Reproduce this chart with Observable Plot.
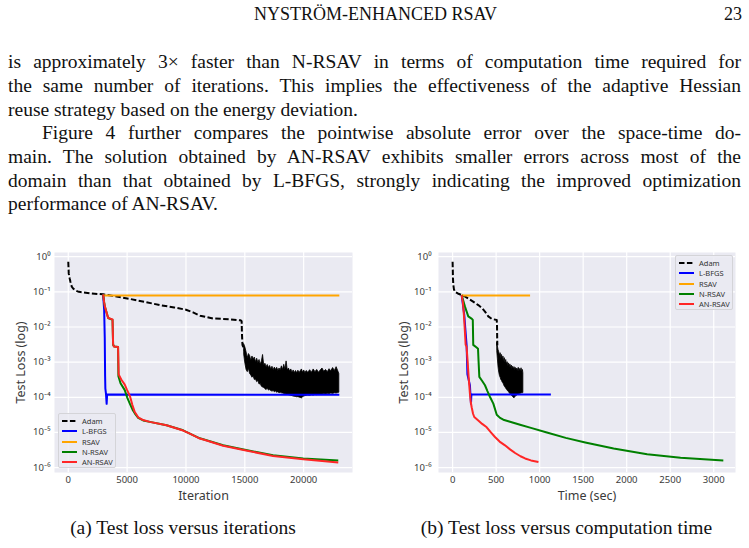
<!DOCTYPE html>
<html>
<head>
<meta charset="utf-8">
<script src="https://cdn.jsdelivr.net/npm/d3@7"></script>
<script src="https://cdn.jsdelivr.net/npm/@observablehq/plot@0.6"></script>
<style>
  html, body { margin: 0; padding: 0; background: #fff; }
  #page { position: relative; width: 749px; height: 548px; overflow: hidden;
          font-family: "Liberation Serif", "DejaVu Serif", serif; color: #111; }
  .ln { position: absolute; left: 8px; width: 733px; font-size: 19.5px; line-height: 22px; }
  .j { text-align: justify; text-align-last: justify; }
  .hdr { position: absolute; top: 4px; font-size: 18px; line-height: 20px; }
  .cap { position: absolute; top: 517px; font-size: 19.5px; line-height: 22px; text-align: center; width: 380px; }
  .chart { position: absolute; top: 240px; }
  .chart svg { display: block; }
  .legend { position: absolute; box-sizing: border-box; border: 1px solid #d4d4d8; border-radius: 2px;
            background: rgba(234,234,242,0.85); font-family: "Noto Sans", "DejaVu Sans", sans-serif;
            font-size: 7.5px; color: #333; }
  .legend .row { position: absolute; left: 0; height: 10px; line-height: 10px; white-space: nowrap; }
  .legend svg { position: absolute; top: 0; }
  .legend span { position: absolute; top: 0; }
</style>
</head>
<body>
<div id="page">
  <div class="hdr" style="left:0;width:751px;text-align:center;">NYSTRÖM-ENHANCED RSAV</div>
  <div class="hdr" style="left:700px;width:42px;text-align:right;">23</div>

  <div class="ln j" style="top:51px;">is approximately 3× faster than N-RSAV in terms of computation time required for</div>
  <div class="ln j" style="top:75px;">the same number of iterations. This implies the effectiveness of the adaptive Hessian</div>
  <div class="ln" style="top:98.5px;">reuse strategy based on the energy deviation.</div>
  <div class="ln j" style="top:122px;left:42px;width:699px;">Figure 4 further compares the pointwise absolute error over the space-time do-</div>
  <div class="ln j" style="top:146px;">main. The solution obtained by AN-RSAV exhibits smaller errors across most of the</div>
  <div class="ln j" style="top:169.5px;">domain than that obtained by L-BFGS, strongly indicating the improved optimization</div>
  <div class="ln" style="top:193px;">performance of AN-RSAV.</div>

  <div id="chartA" class="chart" style="left:0px;"></div>
  <div id="chartB" class="chart" style="left:380px;"></div>

  <div class="cap" style="left:-7px;">(a) Test loss versus iterations</div>
  <div class="cap" style="left:376.5px;">(b) Test loss versus computation time</div>
</div>

<script>
// Series shared by both panels
const seriesNames  = ["Adam", "L-BFGS", "RSAV", "N-RSAV", "AN-RSAV"];
const seriesColors = ["#000000", "#0000ff", "#ffa500", "#008000", "#ff2626"];

// Axis ticks
const lossTicks = [1e-6, 1e-5, 1e-4, 1e-3, 1e-2, 1e-1, 1];
const iterTicks = [0, 5000, 10000, 15000, 20000];
const timeTicks = [0, 500, 1000, 1500, 2000, 2500, 3000];

// ---- Test loss versus iteration: [iteration, loss] ----
const iterAdam = [
  [0, 0.72], [20, 0.5], [40, 0.33], [120, 0.24], [190, 0.19], [300, 0.14], [410, 0.125],
  [600, 0.11], [900, 0.1], [1260, 0.097], [2000, 0.09], [2960, 0.085], [4000, 0.075],
  [5230, 0.063], [6500, 0.052], [7780, 0.042], [9000, 0.036], [10000, 0.031], [10600, 0.026],
  [11200, 0.021], [12300, 0.0175], [13700, 0.0166], [14640, 0.0155], [14730, 0.0145],
  [14760, 0.006], [14800, 0.0031], [14900, 0.0025], [14950, 0.0022]
];
// Adam oscillation envelope after the drop: [iteration, low, high]
const iterAdamBand = [
  [14950, 1.6e-3, 3.2e-3], [15050, 9e-4, 2.6e-3], [15150, 6e-4, 1.9e-3], [15250, 5.2e-4, 1.3e-3],
  [15350, 6.5e-4, 1.7e-3], [15450, 4.6e-4, 1.5e-3], [15550, 4.2e-4, 1.1e-3], [15650, 3.6e-4, 1.45e-3],
  [15750, 3.9e-4, 1.2e-3], [15850, 3.1e-4, 1.35e-3], [15950, 3.2e-4, 1.0e-3], [16050, 2.7e-4, 1.25e-3],
  [16150, 2.9e-4, 9.5e-4], [16250, 2.3e-4, 1.15e-3], [16350, 2.4e-4, 8.5e-4], [16450, 2.0e-4, 1.05e-3],
  [16550, 1.9e-4, 1.6e-3], [16650, 1.85e-4, 8.0e-4], [16750, 1.7e-4, 9.0e-4], [16850, 1.6e-4, 7.2e-4],
  [16950, 1.75e-4, 8.3e-4], [17050, 1.55e-4, 6.8e-4], [17150, 1.6e-4, 7.8e-4], [17250, 1.5e-4, 6.2e-4],
  [17350, 1.45e-4, 7.4e-4], [17450, 1.5e-4, 5.9e-4], [17550, 1.4e-4, 7.0e-4], [17650, 1.45e-4, 6.0e-4],
  [17750, 1.35e-4, 6.9e-4], [17850, 1.4e-4, 5.6e-4], [17950, 1.3e-4, 6.6e-4], [18050, 1.35e-4, 5.8e-4],
  [18150, 1.3e-4, 7.6e-4], [18250, 1.28e-4, 6.0e-4], [18350, 1.25e-4, 8.4e-4], [18450, 1.22e-4, 6.2e-4],
  [18550, 1.2e-4, 1.05e-3], [18650, 1.18e-4, 5.8e-4], [18750, 1.15e-4, 6.6e-4], [18850, 1.12e-4, 5.4e-4],
  [18950, 1.1e-4, 6.2e-4], [19050, 1.08e-4, 5.0e-4], [19150, 1.05e-4, 5.8e-4], [19250, 1.03e-4, 4.9e-4],
  [19350, 1.02e-4, 5.6e-4], [19450, 1.0e-4, 4.8e-4], [19550, 1.01e-4, 5.7e-4], [19650, 9.8e-5, 4.9e-4],
  [19750, 9.6e-5, 5.5e-4], [19850, 9.3e-5, 6.2e-4], [19950, 1.0e-4, 5.0e-4], [20050, 1.05e-4, 5.8e-4],
  [20150, 1.08e-4, 4.8e-4], [20250, 1.1e-4, 5.6e-4], [20400, 1.12e-4, 5.0e-4], [20550, 1.1e-4, 5.9e-4],
  [20700, 1.15e-4, 5.0e-4], [20850, 1.12e-4, 6.2e-4], [21000, 1.18e-4, 5.2e-4], [21150, 1.15e-4, 6.0e-4],
  [21300, 1.2e-4, 5.0e-4], [21450, 1.17e-4, 5.8e-4], [21600, 1.2e-4, 6.6e-4], [21750, 1.22e-4, 5.3e-4],
  [21900, 1.2e-4, 6.0e-4], [22050, 1.25e-4, 5.2e-4], [22200, 1.22e-4, 6.3e-4], [22350, 1.28e-4, 5.5e-4],
  [22500, 1.25e-4, 6.8e-4], [22650, 1.3e-4, 5.6e-4], [22800, 1.28e-4, 7.2e-4], [22950, 1.32e-4, 5.4e-4],
  [23030, 1.35e-4, 4.6e-4]
];
const iterLbfgs = [
  [2960, 0.085], [3050, 0.03], [3100, 0.005], [3130, 4e-4], [3150, 1.8e-4], [3200, 1.3e-4],
  [3260, 6.5e-5], [3300, 1.2e-4], [23030, 1.18e-4]
];
const iterRsav = [[2960, 0.082], [3100, 0.079], [23030, 0.079]];
const iterNrsav = [
  [2960, 0.085], [3050, 0.05], [3110, 0.038], [3390, 0.018], [3760, 0.016], [3810, 0.0031],
  [3900, 0.0028], [4230, 0.0027], [4260, 4e-4], [4440, 2.5e-4], [4800, 1.6e-4], [5000, 1.0e-4],
  [5230, 6.6e-5], [5500, 4.2e-5], [5650, 3.5e-5], [5940, 2.6e-5], [6360, 2.2e-5], [6930, 2.0e-5],
  [8350, 1.6e-5], [9760, 1.15e-5], [10330, 9.3e-6], [11180, 6.8e-6], [11750, 6.0e-6], [13160, 4.3e-6],
  [15000, 3.2e-6], [17400, 2.25e-6], [19970, 1.82e-6], [22940, 1.6e-6]
];
const iterAnrsav = [
  [2960, 0.085], [3050, 0.05], [3110, 0.038], [3350, 0.02], [3390, 0.018], [3760, 0.0165],
  [3810, 0.0033], [3870, 0.0028], [4230, 0.0027], [4280, 4.5e-4], [4500, 3.2e-4], [4800, 2.3e-4],
  [5000, 1.6e-4], [5230, 1.1e-4], [5450, 6e-5], [5650, 3.8e-5], [5940, 2.7e-5], [6360, 2.25e-5],
  [6930, 2.0e-5], [8350, 1.6e-5], [9760, 1.13e-5], [10330, 9.2e-6], [11180, 6.7e-6], [11750, 5.9e-6],
  [13160, 4.2e-6], [15000, 3.1e-6], [17400, 2.15e-6], [19970, 1.72e-6], [22940, 1.4e-6]
];

// ---- Test loss versus computation time: [seconds, loss] ----
const timeAdam = [
  [0, 0.72], [2, 0.45], [4, 0.25], [8, 0.16], [15, 0.12], [26, 0.1], [60, 0.09], [104, 0.081],
  [140, 0.074], [180, 0.065], [240, 0.052], [295, 0.042], [340, 0.034], [372, 0.0275], [410, 0.02],
  [449, 0.017], [507, 0.0158], [510, 0.012], [512, 0.005], [514, 0.003]
];
const timeAdamBand = [
  [513, 2.0e-3, 3.5e-3], [520, 1.2e-3, 2.8e-3], [528, 7e-4, 2.2e-3], [536, 5e-4, 1.9e-3],
  [544, 4e-4, 1.5e-3], [552, 3.6e-4, 1.8e-3], [560, 3.1e-4, 1.3e-3], [568, 2.9e-4, 1.6e-3],
  [576, 2.6e-4, 1.15e-3], [584, 2.5e-4, 1.45e-3], [592, 2.2e-4, 1.05e-3], [600, 2.0e-4, 1.3e-3],
  [608, 1.9e-4, 9.5e-4], [616, 1.75e-4, 1.15e-3], [624, 1.65e-4, 8.5e-4], [632, 1.55e-4, 1.0e-3],
  [640, 1.45e-4, 7.8e-4], [648, 1.4e-4, 9.2e-4], [656, 1.3e-4, 7.2e-4], [664, 1.25e-4, 8.6e-4],
  [672, 1.18e-4, 6.8e-4], [680, 1.12e-4, 8.0e-4], [688, 1.06e-4, 6.4e-4], [696, 1.02e-4, 7.4e-4],
  [704, 9.6e-5, 6.2e-4], [712, 9.4e-5, 7.2e-4], [720, 1.0e-4, 6.0e-4], [728, 1.05e-4, 6.8e-4],
  [736, 1.1e-4, 5.8e-4], [744, 1.12e-4, 6.6e-4], [752, 1.18e-4, 5.6e-4], [760, 1.2e-4, 6.9e-4],
  [768, 1.22e-4, 5.5e-4], [776, 1.24e-4, 6.4e-4], [784, 1.26e-4, 5.4e-4], [792, 1.28e-4, 6.7e-4],
  [800, 1.3e-4, 5.3e-4], [808, 1.3e-4, 6.0e-4], [813, 1.32e-4, 4.8e-4]
];
const timeLbfgs = [
  [104, 0.081], [134, 0.022], [161, 0.003], [166, 0.0011], [170, 4.5e-4], [199, 2.2e-4],
  [205, 1.2e-4], [211, 6.6e-5], [216, 1.2e-4], [1129, 1.2e-4]
];
const timeRsav = [[104, 0.081], [120, 0.079], [890, 0.079]];
const timeNrsav = [
  [104, 0.081], [142, 0.038], [180, 0.02], [222, 0.017], [232, 0.016], [237, 0.0031], [276, 0.0026],
  [292, 0.0024], [298, 0.0011], [307, 3.8e-4], [340, 2.9e-4], [372, 2.2e-4], [400, 1.5e-4],
  [430, 1.02e-4], [468, 6.6e-5], [507, 3.2e-5], [545, 2.6e-5], [583, 2.3e-5], [650, 2.05e-5],
  [775, 1.65e-5], [900, 1.35e-5], [1083, 1.0e-5], [1300, 7.0e-6], [1524, 5.2e-6], [1850, 3.5e-6],
  [2235, 2.4e-6], [2619, 1.9e-6], [3110, 1.6e-6]
];
const timeAnrsav = [
  [104, 0.081], [118, 0.05], [130, 0.022], [140, 0.0085], [150, 0.0031], [160, 0.0028], [172, 0.0011],
  [185, 3.5e-4], [199, 1.26e-4], [210, 7e-5], [219, 5.2e-5], [235, 3.4e-5], [249, 2.75e-5],
  [295, 2.2e-5], [340, 1.75e-5], [392, 1.4e-5], [440, 1.0e-5], [487, 7.4e-6], [540, 5.5e-6],
  [602, 4.3e-6], [660, 3.3e-6], [718, 2.6e-6], [780, 2.1e-6], [833, 1.82e-6], [900, 1.6e-6], [986, 1.45e-6]
];

// Power-of-ten tick labels with superscript exponents
const supDigits = { "-": "\u207B", "0": "\u2070", "1": "\u00B9", "2": "\u00B2", "3": "\u00B3",
                    "4": "\u2074", "5": "\u2075", "6": "\u2076", "7": "\u2077", "8": "\u2078", "9": "\u2079" };
const pow10 = d => "10" + String(Math.round(Math.log10(d))).replace(/./g, c => supDigits[c]);

const toPoints = a => a.map(([x, y]) => ({x, y}));
const toBand = a => a.map(([x, lo, hi]) => ({x, lo, hi}));

function lossChart(o) {
  const line = (data, i, extra = {}) => Plot.line(toPoints(data), {
    x: "x", y: "y", stroke: seriesColors[i], strokeWidth: 2,
    strokeLinejoin: "round", strokeLinecap: "butt", ...extra
  });
  return Plot.plot({
    width: o.width, height: 270,
    marginLeft: o.marginLeft, marginRight: o.marginRight, marginTop: 12, marginBottom: 38,
    style: { fontFamily: "'Noto Sans', 'DejaVu Sans', sans-serif", fontSize: "9.5px",
             color: "#3a3a3a", background: "transparent", overflow: "visible" },
    x: { domain: o.xDomain },
    y: { type: "log", domain: [10 ** -6.14, 10 ** 0.12] },
    marks: [
      Plot.frame({ fill: "#eaeaf2", stroke: "none" }),
      Plot.gridX(o.xTicks, { stroke: "#fff", strokeOpacity: 1, strokeWidth: 1.2 }),
      Plot.gridY(lossTicks, { stroke: "#fff", strokeOpacity: 1, strokeWidth: 1.2 }),
      Plot.axisX(o.xTicks, { tickSize: 0, tickPadding: 4, tickFormat: d => String(d), label: null }),
      Plot.axisY(lossTicks, { tickSize: 0, tickPadding: o.yPad, tickFormat: pow10, label: null }),
      Plot.text([o.xLabel], { frameAnchor: "bottom", lineAnchor: "middle", textAnchor: "middle",
                              dy: 23, fontSize: 12.5 }),
      Plot.text(["Test Loss (log)"], { frameAnchor: "left", lineAnchor: "middle", textAnchor: "middle",
                                       rotate: -90, dx: o.yLabelDx, fontSize: 12.5 }),
      Plot.areaY(toBand(o.band), { x: "x", y1: "lo", y2: "hi", fill: "#000", stroke: "#000", strokeWidth: 0.8 }),
      line(o.adam, 0, { strokeDasharray: "5.5,2.4" }),
      line(o.lbfgs, 1),
      line(o.rsav, 2),
      line(o.nrsav, 3),
      line(o.anrsav, 4)
    ]
  });
}

function legendBox(host, left, top, width, height) {
  const box = document.createElement("div");
  box.className = "legend";
  Object.assign(box.style, { left: left + "px", top: top + "px", width: width + "px", height: height + "px" });
  seriesNames.forEach((name, i) => {
    const row = document.createElement("div");
    row.className = "row";
    row.style.top = (2 + i * 10.3) + "px";
    row.style.width = width + "px";
    const dash = i === 0 ? ' stroke-dasharray="5.5,2.4"' : "";
    row.innerHTML =
      `<svg width="18" height="10" style="left:3px"><line x1="0" x2="15" y1="5" y2="5" stroke="${seriesColors[i]}" stroke-width="2"${dash}/></svg>` +
      `<span style="left:23px">${name}</span>`;
    box.appendChild(row);
  });
  host.appendChild(box);
}

// Shrink the body type just enough that every justified line stays on one line
(function fitBodyText() {
  const lines = Array.from(document.querySelectorAll(".ln"));
  let size = 19.5;
  const fits = () => lines.every(el => el.scrollHeight <= 26);
  lines.forEach(el => el.style.fontSize = size + "px");
  while (!fits() && size > 15) {
    size -= 0.25;
    lines.forEach(el => el.style.fontSize = size + "px");
  }
})();

const page = document.getElementById("page");

document.getElementById("chartA").appendChild(lossChart({
  width: 370, marginLeft: 54, marginRight: 18, xDomain: [-1170, 24150], xTicks: iterTicks,
  xLabel: "Iteration", yPad: 4, yLabelDx: -34,
  adam: iterAdam, band: iterAdamBand, lbfgs: iterLbfgs, rsav: iterRsav, nrsav: iterNrsav, anrsav: iterAnrsav
}));

document.getElementById("chartB").appendChild(lossChart({
  width: 369, marginLeft: 58, marginRight: 14, xDomain: [-162, 3250], xTicks: timeTicks,
  xLabel: "Time (sec)", yPad: 7, yLabelDx: -35,
  adam: timeAdam, band: timeAdamBand, lbfgs: timeLbfgs, rsav: timeRsav, nrsav: timeNrsav, anrsav: timeAnrsav
}));

legendBox(page, 58, 413, 58, 55);
legendBox(page, 675, 255, 58, 55);
</script>
</body>
</html>
